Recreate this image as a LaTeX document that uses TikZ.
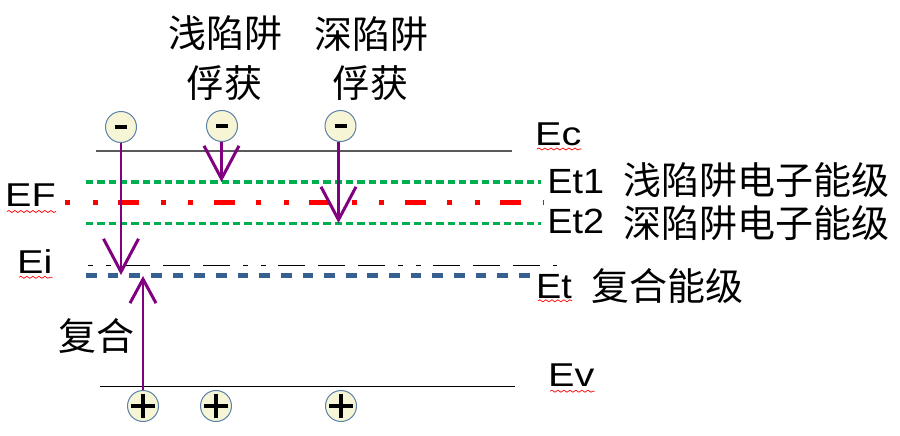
\documentclass[tikz,border=0pt]{standalone}
\usepackage{fontspec}
\setmainfont{Liberation Sans}
\newfontfamily\widesans[FakeStretch=1.2]{Liberation Sans}
\newfontfamily\midsans[FakeStretch=1.08]{Liberation Sans}
\newfontfamily\cjk{Noto Sans CJK SC}
\usetikzlibrary{arrows.meta,decorations.pathmorphing}
\definecolor{trapcol}{RGB}{128,0,128}
\definecolor{circfill}{RGB}{246,246,214}
\definecolor{circborder}{RGB}{91,128,170}
\definecolor{levgreen}{RGB}{0,176,80}
\definecolor{levblue}{RGB}{54,96,146}
\definecolor{levgray}{RGB}{89,89,89}
\begin{document}
\begin{tikzpicture}[x=1pt,y=-1pt,
  lab/.style={font=\widesans\fontsize{33}{36}\selectfont, inner sep=0pt, anchor=base west},
  labb/.style={font=\midsans\fontsize{35}{38}\selectfont, inner sep=0pt, anchor=base west},
  cjklab/.style={font=\cjk\fontsize{38}{40}\selectfont, inner sep=0pt},
  particle/.style={circle, draw=circborder, fill=circfill, line width=1pt, minimum size=31pt, inner sep=0pt},
  trans/.style={draw=trapcol, line width=2.6pt},
  bigtip/.style={-{Straight Barb[length=33pt,width=35pt,line width=3pt]}},
  smalltip/.style={-{Straight Barb[length=24pt,width=26pt,line width=3pt]}},
  solidlev/.style={line width=1.4pt},
  greenlev/.style={draw=levgreen, line width=3.5pt, dash pattern=on 7.3pt off 4pt},
  squig/.style={draw=red, line width=0.7pt, decorate, decoration={snake,amplitude=1pt,segment length=6pt}},
  plusbar/.style={line width=4pt}
]
\useasboundingbox (0,0) rectangle (900,436);

% energy levels
\draw[solidlev, draw=levgray] (96,151) -- (512,151);
\draw[greenlev] (86,182) -- (541,182);
\draw[draw=red, line width=5pt, dash pattern=on 5pt off 22.5pt on 5pt off 20.5pt on 21pt off 21.5pt] (65,202.5) -- (544,202.5);
\draw[greenlev] (86,223.5) -- (541,223.5);
\draw[line width=1pt, dash pattern=on 5pt off 13pt on 5pt off 12pt on 27pt off 13pt on 27pt off 13pt on 27pt off 13pt] (88,265) -- (557,265);
\draw[draw=levblue, line width=5pt, dash pattern=on 10.7pt off 10.95pt] (86,275.7) -- (531,275.7);
\draw[solidlev] (100,386.5) -- (515,386.5);

% labels
\node[lab] (EF) at (5,206) {EF};
\node[lab] (Ei) at (17,273.3) {Ei};
\node[lab] (Ec) at (535,145) {Ec};
\node[labb] (Et1) at (547.2,193.3) {Et1};
\node[labb] (Et2) at (547.2,233.4) {Et2};
\node[labb] (Et) at (536,298.3) {Et};
\node[lab] (Ev) at (548,386.7) {Ev};
\node[cjklab, anchor=west] (Et1c) at (623,180) {浅陷阱电子能级};
\node[cjklab, anchor=west] (Et2c) at (623,223.5) {深陷阱电子能级};
\node[cjklab, anchor=west] (Etc) at (591,286) {复合能级};
\node[cjklab] (rec) at (96,336.5) {复合};
\node[cjklab] (sh1) at (225,33.5) {浅陷阱};
\node[cjklab] (sh2) at (224.5,83.5) {俘获};
\node[cjklab] (dp1) at (371.7,34) {深陷阱};
\node[cjklab] (dp2) at (370.5,83.5) {俘获};

% spell-check squiggles
\foreach \n/\s in {EF/-5.5pt, Ei/-4pt, Ec/-4pt, Et/-2.5pt, Ev/-4.5pt}
  \draw[squig] ([xshift=2pt,yshift=\s]\n.base west) -- ([yshift=\s]\n.base east);

% electrons
\node[particle] (e1) at (121,127) {\rule{12pt}{4.5pt}};
\node[particle] (e2) at (222,126) {\rule{12pt}{4.5pt}};
\node[particle] (e3) at (340.5,126) {\rule{12pt}{4.5pt}};

% holes
\node[particle] (h1) at (143,406) {};
\node[particle] (h2) at (216,406) {};
\node[particle] (h3) at (341,406) {};
\foreach \h in {h1,h2,h3} {
  \draw[plusbar] ([xshift=-12pt]\h.center) -- ([xshift=12pt]\h.center);
  \draw[plusbar] ([yshift=-12pt]\h.center) -- ([yshift=12pt]\h.center);
}

% transitions
\coordinate (t1) at (121,275);
\coordinate (t2) at (221.5,182);
\coordinate (t3) at (338.5,223);
\coordinate (t4) at (143,276);
\draw[trans, bigtip] (e1) -- (t1);
\draw[trans, bigtip] (e2.south -| t2) -- (t2);
\draw[trans, bigtip] (e3.south -| t3) -- (t3);
\draw[trans, smalltip] (h1) -- (t4);
\end{tikzpicture}
\end{document}
